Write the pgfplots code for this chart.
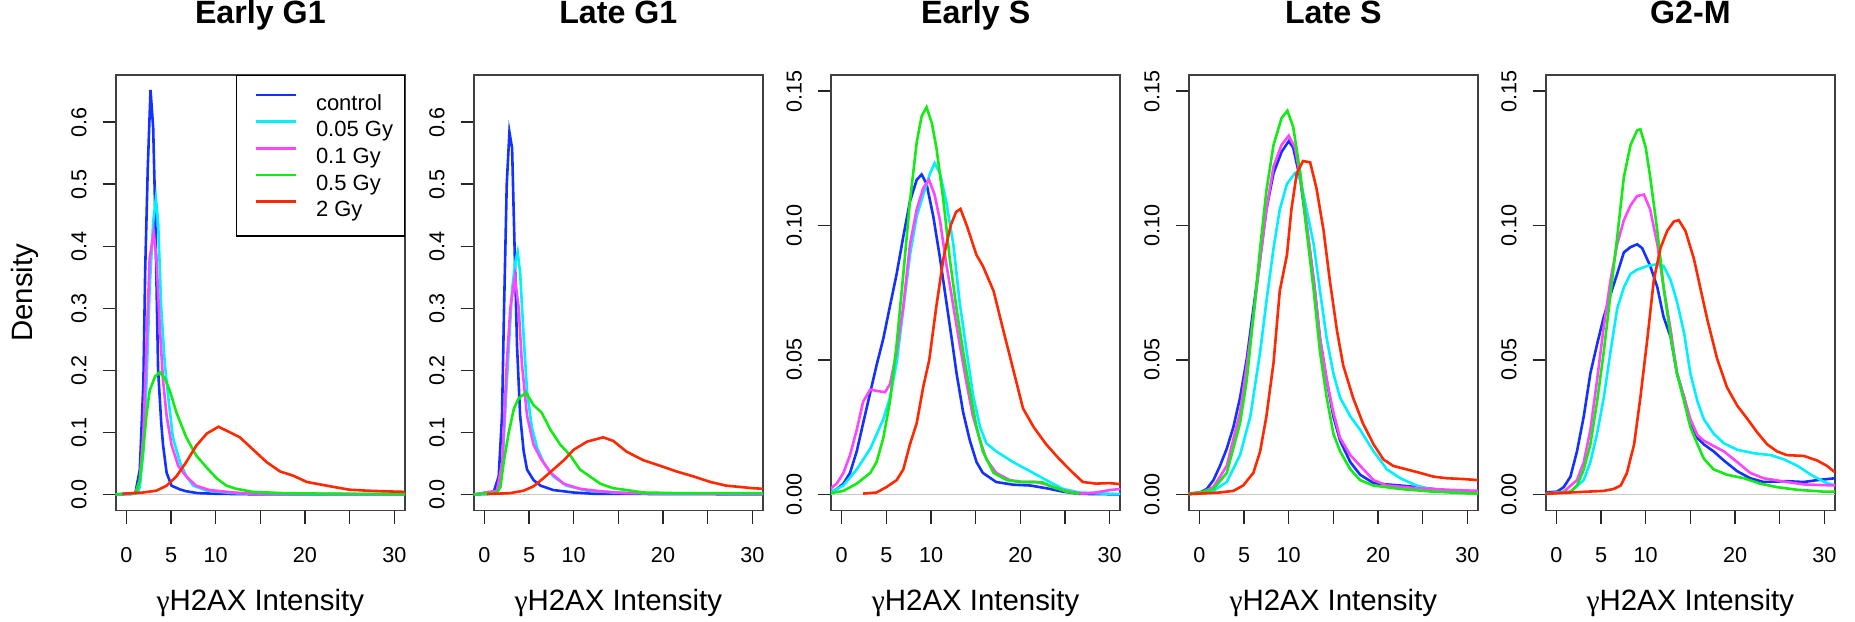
\documentclass[border=0pt]{standalone}
\usepackage{fontspec}
\setmainfont{Liberation Sans}
\newfontfamily\symfont{Liberation Serif}
\usepackage{pgfplots}
\pgfplotsset{compat=1.18}

\definecolor{cBlue}{RGB}{20,50,255}
\definecolor{cCyan}{RGB}{0,240,255}
\definecolor{cMag}{RGB}{255,70,255}
\definecolor{cGreen}{RGB}{20,235,20}
\definecolor{cRed}{RGB}{255,40,0}
\definecolor{zgray}{RGB}{200,200,200}

\pgfplotsset{
  rplot/.style={
    scale only axis, width=144.65pt, height=217.75pt,
    anchor=south west,
    xmin=-1.2, xmax=31.2,
    axis line style={black!75, line width=0.9pt},
    tick style={black!85, line width=0.7pt},
    tick align=outside, major tick length=6.5pt,
    tick pos=left,
    xtick={0,5,10,15,20,25,30}, xticklabels={0,5,10,,20,,30},
    /pgf/number format/assume math mode=true,
    ticklabel style={font=\fontsize{10.8}{12}\selectfont},
    xticklabel style={anchor=north, inner sep=0pt},
    xticklabel shift=11.85pt,
    yticklabel style={rotate=90, anchor=south, inner sep=0pt},
    yticklabel shift=7.9pt,
    xlabel={{\symfont γ}H2AX Intensity},
    xlabel style={font=\fontsize{14.7}{16}\selectfont, at={(axis description cs:0.5,-0.2285)}, anchor=base},
    title style={font=\bfseries\fontsize{16.1}{18}\selectfont, at={(axis description cs:0.5,1.0918)}, anchor=base},
    every axis plot/.append style={line width=1.3pt, mark=none},
    clip=true,
  },
  bigy/.style={ymin=-0.026, ymax=0.676, ytick={0,0.1,0.2,0.3,0.4,0.5,0.6},
    yticklabels={0.0,0.1,0.2,0.3,0.4,0.5,0.6}},
  smally/.style={ymin=-0.006, ymax=0.156, ytick={0,0.05,0.10,0.15},
    yticklabels={0.00,0.05,0.10,0.15}},
}
\newcommand{\legtxt}[1]{\makebox[44.15pt][l]{#1}}

\begin{document}
\begin{tikzpicture}
\path[use as bounding box] (0,0) rectangle (927.5pt,310.5pt);

% ---------------- Early G1 ----------------
\begin{axis}[rplot, bigy, at={(57.85pt,55.25pt)}, title={Early G1},
  ylabel={Density},
  ylabel style={font=\fontsize{14.7}{16}\selectfont, at={(axis description cs:-0.2876,0.5)}, anchor=base},
  legend style={at={(axis description cs:1,1)}, anchor=north east, draw=black, line width=0.7pt,
    fill=white, font=\fontsize{11}{12}\selectfont, inner xsep=0pt, inner ysep=6.675pt,
    row sep=0pt, column sep=0pt, nodes={inner sep=0pt, text height=10.5pt, text depth=2.85pt}},
  legend cell align=left,
  legend image code/.code={\path[draw=none,fill=none] (0pt,3.8pt) -- (39.7pt,3.8pt);
    \draw[#1, line width=1.3pt] (9.7pt,3.8pt) -- (29.7pt,3.8pt);},
]
\addplot[forget plot, zgray, line width=0.6pt] coordinates {(-1.2,0) (31.2,0)};
\addplot[cBlue] coordinates {(-1.2,0) (0.5,0.0005) (1.0,0.002) (1.5,0.04) (1.9,0.18) (2.1,0.36) (2.4,0.53) (2.7,0.652) (3.0,0.59) (3.2,0.47) (3.55,0.2) (3.9,0.115) (4.1,0.08) (4.5,0.035) (5.05,0.014) (6,0.008) (6.7,0.005) (8,0.002) (10,0.001) (15,0) (31.2,0)};
\addplot[cCyan] coordinates {(-1.2,0) (1.0,0.001) (1.3,0.004) (1.5,0.012) (1.9,0.07) (2.25,0.18) (2.6,0.33) (3.0,0.44) (3.3,0.477) (3.55,0.44) (3.9,0.3) (4.3,0.21) (4.7,0.155) (5.2,0.092) (6.0,0.052) (6.7,0.029) (7.5,0.014) (9.0,0.006) (12,0.002) (16,0.0005) (31.2,0.0003)};
\addplot[cMag] coordinates {(-1.2,0) (1.0,0.002) (1.5,0.023) (1.9,0.098) (2.25,0.24) (2.6,0.38) (3.06,0.423) (3.36,0.38) (3.74,0.27) (4.1,0.184) (4.5,0.127) (5.05,0.08) (5.8,0.046) (6.7,0.029) (7.8,0.014) (9.3,0.007) (12,0.003) (14.2,0.001) (31.2,0.0003)};
\addplot[cGreen] coordinates {(-1.2,0) (1.05,0.002) (1.5,0.023) (1.87,0.07) (2.24,0.127) (2.6,0.167) (3.2,0.19) (3.74,0.197) (4.3,0.187) (4.86,0.167) (5.6,0.132) (6.7,0.092) (7.8,0.063) (9.0,0.043) (10.1,0.026) (11.2,0.014) (12.3,0.009) (14.2,0.004) (17.6,0.002) (23,0.001) (31.2,0.0005)};
\addplot[cRed] coordinates {(-0.45,0.001) (1.87,0.003) (3.36,0.006) (4.5,0.014) (5.6,0.029) (6.7,0.052) (7.8,0.078) (9.0,0.098) (10.3,0.109) (11.6,0.1) (12.7,0.092) (14.2,0.072) (15.7,0.052) (17.2,0.037) (18.7,0.03) (20.2,0.02) (21.7,0.016) (23.2,0.012) (25,0.0075) (26.9,0.006) (28.8,0.005) (31.2,0.004)};
\legend{\legtxt{control},\legtxt{0.05 Gy},\legtxt{0.1 Gy},\legtxt{0.5 Gy},\legtxt{2 Gy}}
\end{axis}

% ---------------- Late G1 ----------------
\begin{axis}[rplot, bigy, at={(236.85pt,55.25pt)}, title={Late G1}]
\addplot[forget plot, zgray, line width=0.6pt] coordinates {(-1.2,0) (31.2,0)};
\addplot[cBlue] coordinates {(-1.2,0) (0.3,0.0005) (1.04,0.004) (1.6,0.029) (1.97,0.127) (2.2,0.3) (2.5,0.5) (2.8,0.584) (3.1,0.558) (3.35,0.414) (3.65,0.24) (4.0,0.127) (4.4,0.069) (4.77,0.04) (5.5,0.023) (6.3,0.014) (7.7,0.007) (10,0.003) (12.2,0.001) (31.2,0)};
\addplot[cCyan] coordinates {(-1.2,0) (1.4,0.002) (2.0,0.04) (2.5,0.18) (3.1,0.33) (3.46,0.375) (3.72,0.391) (4.0,0.357) (4.4,0.253) (4.77,0.167) (5.3,0.109) (5.9,0.075) (6.6,0.052) (7.7,0.029) (9.2,0.014) (11.5,0.006) (14.5,0.003) (20,0.001) (31.2,0.0005)};
\addplot[cMag] coordinates {(-1.2,0) (1.4,0.006) (2.0,0.052) (2.5,0.21) (2.9,0.3) (3.4,0.351) (3.84,0.3) (4.2,0.21) (4.77,0.127) (5.5,0.08) (6.3,0.058) (7.4,0.035) (8.9,0.017) (10.7,0.009) (13,0.005) (15.9,0.002) (31.2,0.001)};
\addplot[cGreen] coordinates {(-1.2,0) (1.4,0.003) (1.8,0.012) (2.16,0.052) (2.7,0.098) (3.3,0.138) (3.84,0.155) (4.66,0.164) (5.5,0.144) (6.4,0.132) (7.4,0.104) (8.5,0.08) (9.6,0.063) (10.7,0.04) (11.8,0.029) (13,0.017) (14.4,0.01) (15.9,0.007) (17.8,0.003) (21.5,0.002) (31.2,0.002)};
\addplot[cRed] coordinates {(0.3,0.0005) (2.9,0.002) (4.4,0.006) (5.5,0.013) (6.6,0.026) (7.7,0.04) (8.9,0.055) (10,0.072) (11.5,0.085) (13.3,0.092) (14.45,0.086) (15.9,0.069) (17.8,0.055) (19.7,0.046) (21.5,0.037) (23.4,0.029) (25.3,0.02) (27.1,0.014) (28.6,0.012) (30,0.01) (31.2,0.009)};
\end{axis}

% ---------------- Early S ----------------
\begin{axis}[rplot, smally, at={(415.5pt,55.25pt)}, title={Early S}]
\addplot[forget plot, zgray, line width=0.6pt] coordinates {(-1.2,0) (31.2,0)};
\addplot[cBlue] coordinates {(-1.3,0.0007) (-0.56,0.002) (0.19,0.004) (0.93,0.008) (1.68,0.016) (2.4,0.0265) (3.2,0.038) (3.9,0.048) (4.66,0.058) (5.4,0.070) (6.15,0.082) (6.9,0.096) (7.64,0.109) (8.4,0.117) (8.95,0.119) (9.5,0.1155) (10.25,0.1035) (11,0.088) (11.7,0.072) (12.4,0.056) (12.86,0.045) (13.6,0.0305) (14.35,0.02) (15.1,0.012) (15.8,0.008) (17.3,0.0046) (19.2,0.0036) (21.1,0.0033) (22.9,0.0023) (24.8,0.001) (26.6,0.0002) (31.2,0)};
\addplot[cCyan] coordinates {(-1.3,0.0007) (0.19,0.0033) (1.68,0.0093) (3.2,0.017) (4.66,0.028) (5.4,0.036) (6.15,0.049) (6.9,0.069) (7.64,0.089) (8.4,0.1035) (9.13,0.1115) (9.9,0.1195) (10.4,0.1232) (11,0.1195) (11.7,0.109) (12.5,0.093) (13.2,0.0717) (14,0.053) (14.7,0.037) (15.5,0.025) (16.2,0.019) (17.3,0.016) (19.2,0.012) (21.1,0.0086) (22.9,0.0053) (24.8,0.002) (26.6,0.0007) (30,0.0002) (31.2,0.0002)};
\addplot[cMag] coordinates {(-1.3,0.002) (-0.56,0.004) (0.19,0.008) (0.93,0.0146) (1.68,0.024) (2.4,0.0345) (3.2,0.039) (3.9,0.0385) (4.85,0.038) (5.4,0.041) (6.15,0.053) (6.9,0.070) (7.64,0.093) (8.4,0.106) (9.13,0.114) (9.77,0.117) (10.4,0.1115) (11,0.102) (11.7,0.086) (12.5,0.070) (13.2,0.056) (14,0.041) (14.7,0.029) (15.5,0.02) (16.2,0.013) (17.3,0.008) (18.8,0.0053) (20.3,0.0046) (21.8,0.0046) (22.9,0.0037) (24,0.0023) (25.5,0.001) (27,0.0003) (28.5,0.0007) (30,0.0016) (31.2,0.002)};
\addplot[cGreen] coordinates {(-1.3,0.0004) (0.19,0.0013) (1.68,0.004) (3.2,0.008) (3.9,0.012) (4.66,0.021) (5.4,0.0345) (6.15,0.0558) (6.9,0.082) (7.64,0.109) (8.4,0.131) (8.95,0.1407) (9.5,0.144) (10.1,0.138) (10.6,0.129) (11.4,0.109) (12.1,0.0876) (12.86,0.069) (13.6,0.053) (14.35,0.0385) (15.1,0.025) (15.8,0.016) (17,0.008) (18.5,0.0053) (20,0.0046) (21.5,0.0046) (22.5,0.0044) (23.7,0.0027) (25.2,0.001) (26.6,0.0002)};
\addplot[cRed] coordinates {(2.4,0.0003) (3.9,0.0007) (5.0,0.0027) (6.15,0.0053) (6.9,0.0093) (7.64,0.0186) (8.4,0.0265) (9.13,0.04) (9.8,0.05) (10.6,0.07) (11.4,0.088) (12.2,0.1) (12.8,0.105) (13.3,0.1062) (14,0.1) (15.1,0.089) (15.8,0.085) (17,0.0757) (18.1,0.061) (19.2,0.0465) (20.3,0.032) (21.5,0.025) (22.9,0.0186) (24.4,0.013) (25.9,0.008) (27,0.0046) (28.5,0.004) (30,0.0042) (31.2,0.0038)};
\end{axis}

% ---------------- Late S ----------------
\begin{axis}[rplot, smally, at={(594.35pt,55.25pt)}, title={Late S}]
\addplot[forget plot, zgray, line width=0.6pt] coordinates {(-1.2,0) (31.2,0)};
\addplot[cBlue] coordinates {(-1.2,0.0003) (0.07,0.0007) (0.82,0.002) (1.57,0.0053) (2.3,0.0106) (3.06,0.017) (3.8,0.025) (4.55,0.036) (5.3,0.0504) (6.04,0.069) (6.8,0.0876) (7.5,0.106) (8.3,0.1195) (9.2,0.1274) (10,0.1314) (10.5,0.129) (11.3,0.117) (12,0.0996) (12.8,0.0796) (13.5,0.058) (14.25,0.0425) (15,0.029) (15.75,0.02) (16.9,0.012) (18,0.0073) (19.5,0.0042) (21,0.0037) (22.5,0.0033) (24.3,0.0027) (26.2,0.002) (28,0.0013) (31.2,0.0009)};
\addplot[cCyan] coordinates {(-1.2,0.0001) (0.07,0.0003) (1.57,0.0013) (3.06,0.0046) (4.55,0.0146) (5.7,0.029) (6.8,0.053) (7.5,0.0717) (8.3,0.0916) (9.0,0.106) (9.8,0.1155) (10.7,0.1195) (11.3,0.117) (12,0.106) (12.8,0.093) (13.5,0.0757) (14.25,0.058) (15,0.045) (15.75,0.036) (16.9,0.029) (18,0.024) (19.5,0.016) (21,0.0093) (22.5,0.006) (24.3,0.0033) (26.2,0.0017) (28.4,0.0009) (31.2,0.0003)};
\addplot[cMag] coordinates {(-1.2,0.0002) (0.07,0.0004) (1.57,0.0027) (3.06,0.0106) (4.55,0.0305) (5.3,0.048) (6.04,0.066) (6.8,0.0876) (7.5,0.106) (8.3,0.122) (9.2,0.130) (10,0.1334) (10.7,0.129) (11.3,0.118) (12,0.1009) (12.8,0.0796) (13.5,0.058) (14.25,0.0425) (15,0.0305) (15.75,0.021) (16.9,0.0146) (18,0.0106) (19.5,0.0053) (21,0.0033) (24.3,0.0023) (28,0.0017) (31.2,0.0013)};
\addplot[cGreen] coordinates {(-1.2,0.0003) (0.07,0.0007) (1.57,0.002) (3.06,0.008) (4.55,0.0265) (5.3,0.0425) (6.04,0.066) (6.8,0.0916) (7.5,0.113) (8.3,0.130) (9.2,0.140) (9.85,0.1427) (10.5,0.1367) (11.3,0.1195) (12,0.0982) (12.8,0.0757) (13.5,0.053) (14.25,0.036) (15,0.0226) (15.75,0.016) (16.9,0.0093) (18,0.0053) (19.5,0.0033) (22.5,0.002) (26.2,0.001) (30,0.0004) (31.2,0.0003)};
\addplot[cRed] coordinates {(-1.2,0.0001) (0.07,0.0003) (2.3,0.0007) (3.8,0.0013) (4.9,0.0033) (6.04,0.008) (6.8,0.016) (7.5,0.029) (8.3,0.049) (9.0,0.0757) (9.8,0.089) (10.3,0.106) (10.9,0.1195) (11.6,0.124) (12.4,0.1235) (13.1,0.114) (13.9,0.0982) (14.6,0.0796) (15.4,0.061) (16.1,0.048) (17.2,0.036) (18.3,0.0265) (19.5,0.0186) (20.6,0.013) (21.7,0.0106) (23.2,0.0093) (24.7,0.008) (26.2,0.0066) (27.7,0.006) (29.6,0.0057) (31.2,0.0053)};
\end{axis}

% ---------------- G2-M ----------------
\begin{axis}[rplot, smally, at={(772.85pt,55.25pt)}, title={G2-M}]
\addplot[forget plot, zgray, line width=0.6pt] coordinates {(-1.2,0) (31.2,0)};
\addplot[cBlue] coordinates {(-1.2,0.0007) (0.07,0.001) (0.82,0.0027) (1.57,0.0066) (2.3,0.016) (3.06,0.029) (3.8,0.045) (4.55,0.0558) (5.3,0.066) (6.05,0.0743) (6.8,0.082) (7.55,0.090) (8.3,0.092) (9.04,0.093) (9.6,0.0916) (10.5,0.085) (11.3,0.077) (12,0.066) (12.8,0.0584) (13.5,0.045) (14.3,0.036) (15,0.0265) (15.8,0.021) (16.5,0.0186) (17.6,0.016) (18.75,0.0126) (20.25,0.0086) (21.7,0.006) (23.2,0.0046) (25.8,0.0049) (27.7,0.0046) (29.2,0.0053) (31.2,0.006)};
\addplot[cCyan] coordinates {(-1.2,0.0002) (1.57,0.001) (3.06,0.0053) (3.8,0.012) (4.55,0.0226) (5.3,0.036) (6.05,0.053) (6.8,0.069) (7.55,0.077) (8.3,0.082) (9.04,0.0836) (10.2,0.085) (11.3,0.0856) (12,0.085) (12.8,0.0796) (13.5,0.0717) (14.3,0.06) (15,0.045) (15.8,0.0345) (16.5,0.028) (17.6,0.0226) (18.75,0.019) (20.25,0.0166) (22.1,0.0153) (24,0.0146) (25.5,0.013) (27,0.0106) (28.5,0.0073) (30,0.0046) (31.2,0.0033)};
\addplot[cMag] coordinates {(-1.2,0.0002) (0.82,0.001) (2.3,0.0053) (3.06,0.012) (3.8,0.024) (4.55,0.0425) (5.3,0.0624) (6.05,0.0796) (6.8,0.093) (7.55,0.102) (8.3,0.1075) (9.04,0.111) (9.8,0.1115) (10.5,0.106) (11.3,0.093) (12,0.077) (12.8,0.061) (13.5,0.045) (14.3,0.036) (15,0.028) (15.8,0.022) (16.5,0.02) (17.6,0.018) (18.75,0.016) (20.25,0.012) (21.7,0.008) (23.2,0.006) (25.8,0.0046) (27.7,0.0037) (31.2,0.0033)};
\addplot[cGreen] coordinates {(-1.2,0.0002) (1.57,0.001) (2.3,0.0033) (3.06,0.0093) (3.8,0.0186) (4.55,0.0345) (5.3,0.053) (6.05,0.0743) (6.8,0.0956) (7.55,0.118) (8.3,0.130) (9.04,0.1354) (9.4,0.1358) (10,0.129) (10.5,0.118) (11.3,0.098) (12,0.077) (12.8,0.0584) (13.5,0.045) (14.3,0.0345) (15,0.025) (15.8,0.0186) (16.5,0.0133) (17.6,0.0093) (19.1,0.0073) (21,0.006) (22.8,0.004) (24.7,0.0027) (27,0.0017) (30,0.001) (31.2,0.001)};
\addplot[cRed] coordinates {(-1.2,0.0002) (1.57,0.0007) (3.4,0.001) (5.3,0.0013) (6.4,0.002) (7.2,0.0033) (7.9,0.008) (8.7,0.0186) (9.4,0.036) (10.2,0.0584) (10.9,0.0796) (11.65,0.0916) (12.4,0.098) (13.15,0.1015) (13.7,0.102) (14.45,0.098) (15.4,0.0876) (16.1,0.077) (16.9,0.065) (18,0.0504) (19.1,0.0398) (20.25,0.033) (21.4,0.028) (22.5,0.023) (23.6,0.0186) (24.7,0.016) (25.8,0.0146) (27.7,0.0143) (29.2,0.0126) (30.3,0.0106) (31.2,0.0082)};
\end{axis}
\end{tikzpicture}
\end{document}
